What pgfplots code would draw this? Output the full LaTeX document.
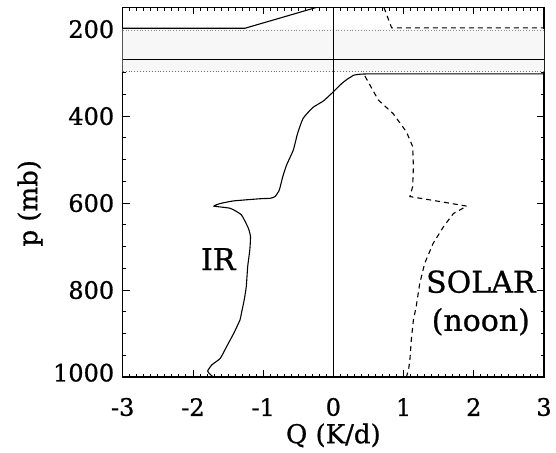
\documentclass[border=0pt]{standalone}
\usepackage{fontspec}
\setmainfont{DejaVu Serif}[FakeBold=0.8]
\usepackage{pgfplots}
\pgfplotsset{compat=1.18}
\begin{document}
\begin{tikzpicture}
\useasboundingbox (0,0) rectangle (556pt,452pt);
\begin{axis}[
  at={(122.7pt,75pt)}, anchor=south west,
  scale only axis, width=421.3pt, height=369.6pt,
  xmin=-3, xmax=3, ymin=150, ymax=1000, y dir=reverse,
  xtick={-3,-2,-1,0,1,2,3}, xticklabels={-3,-2,-1,0,1,2,3},
  ytick={200,400,600,800,1000}, yticklabels={200,400,600,800,\raisebox{9pt}{1000}},
  minor x tick num=9, minor y tick num=3,
  major tick length=7pt, minor tick length=3.5pt,
  axis line style={line width=1.1pt},
  tick style={line width=0.8pt, black},
  ticklabel style={font=\fontsize{24pt}{28pt}\selectfont},
  xticklabel style={anchor=center, yshift=-30pt},
  yticklabel style={anchor=east, xshift=-5pt},
  xlabel={Q (K/d)}, ylabel={p (mb)},
  label style={font=\fontsize{26pt}{30pt}\selectfont},
  xlabel style={at={(axis description cs:0.5,-0.158)}, anchor=center},
  ylabel style={at={(axis description cs:-0.22,0.47)}, anchor=center},
]
% stippled cloud layer
\addplot[fill=black!3, draw=none] coordinates {(-3,200) (3,200) (3,298) (-3,298) (-3,200)};
\addplot[black!45, dotted, line width=0.8pt] coordinates {(-3,204) (3,204)};
\addplot[black!55, dotted, line width=0.9pt] coordinates {(-3,297) (3,297)};
% cloud line
\addplot[black, line width=1.1pt] coordinates {(-3,269) (3,269)};
% zero line
\addplot[black, line width=1.1pt] coordinates {(0,150) (0,1000)};
% IR (solid)
\addplot[black, line width=1.1pt] coordinates {(-3,198) (-1.26,198) (-0.24,150)};
\addplot[black, line width=1.1pt, smooth, tension=0.3] coordinates {
(3,303) (0.47,303) (0.24,311) (0.12,325) (0,344) (-0.14,365) (-0.29,380) (-0.43,405)
(-0.51,440) (-0.57,478) (-0.665,512) (-0.72,539) (-0.77,570) (-0.83,585) (-0.90,589)
(-1.04,590) (-1.42,595) (-1.61,601) (-1.70,607) (-1.47,612) (-1.31,627) (-1.21,658)
(-1.18,677) (-1.19,708) (-1.22,746) (-1.24,792) (-1.27,823) (-1.31,854) (-1.33,869)
(-1.42,900) (-1.52,930) (-1.61,957) (-1.73,972) (-1.79,986) (-1.76,993) (-1.71,1000)};
% SOLAR (dashed)
\addplot[black, line width=1.1pt, dash pattern=on 5pt off 4pt] coordinates {(0.72,150) (0.83,197) (3,197)};
\addplot[black, line width=1.1pt, dash pattern=on 5pt off 4pt] coordinates {
(0.45,308) (0.64,363) (0.85,394) (1.04,436) (1.13,470) (1.14,516) (1.13,562) (1.09,585)
(1.50,596) (1.90,607) (1.71,624) (1.57,654) (1.42,693) (1.30,739) (1.23,785) (1.18,838)
(1.14,869) (1.11,915) (1.09,961) (1.07,984) (1.04,1000)};
\node[font=\fontsize{30pt}{34pt}\selectfont] at (axis cs:-1.64,729) {IR};
\node[font=\fontsize{30pt}{34pt}\selectfont] at (axis cs:2.1,781) {SOLAR};
\node[font=\fontsize{30pt}{34pt}\selectfont] at (axis cs:2.1,873) {(noon)};
\end{axis}
\end{tikzpicture}
\end{document}
